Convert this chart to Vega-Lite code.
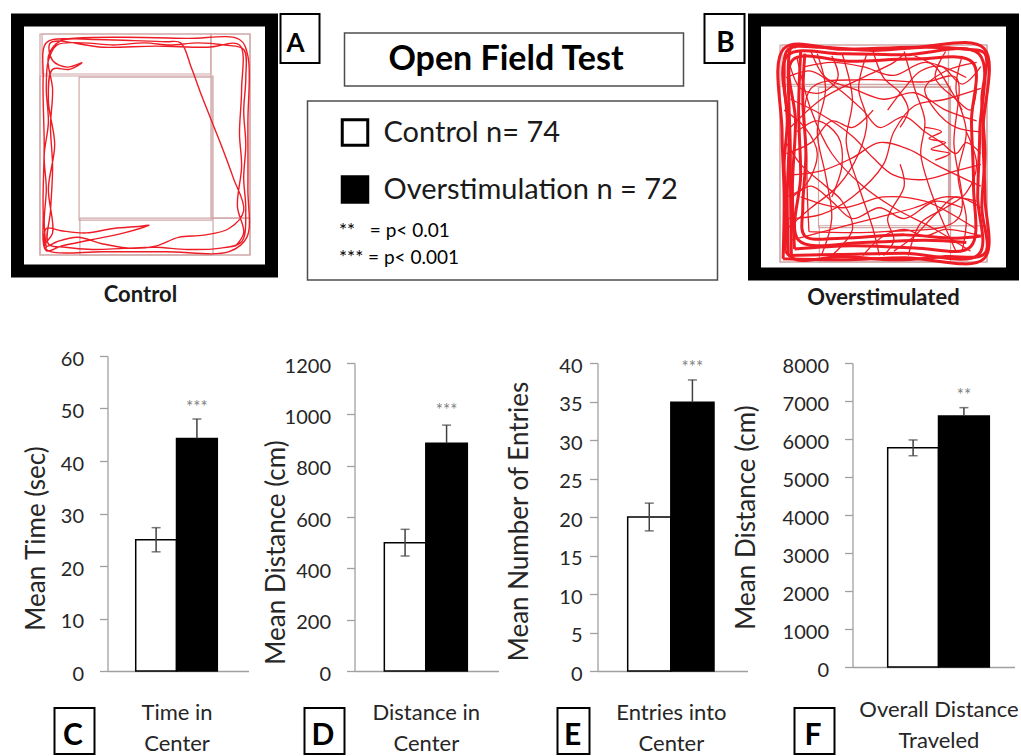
{
"$schema":"https://vega.github.io/schema/vega-lite/v6.json",
"padding":{"left":10.5,"top":13,"right":0,"bottom":0},
"spacing":0,"bounds":"flush",
"resolve":{"legend":{"fill":"independent","shape":"independent"},"scale":{"fill":"independent","shape":"independent"}},
"config":{"font":"Lato","view":{"stroke":null},
"axis":{"labelFont":"Lato","titleFont":"Lato","labelFontSize":20,"titleFontSize":26,"titleFontWeight":"normal","labelColor":"#262626","titleColor":"#262626","domainColor":"#a0a0a0","tickColor":"#a0a0a0","domainWidth":1.3,"tickWidth":1.3,"tickSize":8,"grid":false},
"axisY":{"titleAngle":270,"titleAlign":"center","titleBaseline":"middle","labelOffset":3},
"axisX":{"titleFontSize":22,"titleAlign":"center","titleBaseline":"top","titleLineHeight":31},
"legend":{"labelFont":"Lato"},"title":{"font":"Lato"}},
"datasets":{
"bars":[
{"panel":"C","group":"Control","mean":25.0,"lo":22.7,"hi":27.3,"sig":""},
{"panel":"C","group":"Overstimulation","mean":44.3,"lo":40.6,"hi":48.0,"sig":"***"},
{"panel":"D","group":"Control","mean":500,"lo":448,"hi":552,"sig":""},
{"panel":"D","group":"Overstimulation","mean":887,"lo":816,"hi":958,"sig":"***"},
{"panel":"E","group":"Control","mean":20.0,"lo":18.2,"hi":21.8,"sig":""},
{"panel":"E","group":"Overstimulation","mean":34.9,"lo":32.0,"hi":37.8,"sig":"***"},
{"panel":"F","group":"Control","mean":5770,"lo":5560,"hi":5975,"sig":""},
{"panel":"F","group":"Overstimulation","mean":6605,"lo":6385,"hi":6825,"sig":"**"}],
"zones":[
{"zone":"outer","x1":0,"x2":100,"y1":0,"y2":100},
{"zone":"center","x1":18.6,"x2":81.9,"y1":15.8,"y2":80.5},
{"zone":"top","x1":1,"x2":81.4,"y1":81.9,"y2":100},
{"zone":"leftbig","x1":0,"x2":82.4,"y1":0,"y2":81},
{"zone":"right","x1":81.4,"x2":100,"y1":16.7,"y2":100},
{"zone":"bottom","x1":19,"x2":100,"y1":0,"y2":16.7}],
"ctrl":[
{"o":1,"x":3,"y":3},{"o":2,"x":2,"y":15},{"o":3,"x":3,"y":30},{"o":4,"x":2,"y":45},{"o":5,"x":4,"y":60},{"o":6,"x":3,"y":75},{"o":7,"x":4,"y":88},{"o":8,"x":8,"y":95},{"o":9,"x":20,"y":96},{"o":10,"x":35,"y":95},
{"o":11,"x":50,"y":96},{"o":12,"x":62,"y":95},{"o":13,"x":75,"y":96},{"o":14,"x":88,"y":95},{"o":15,"x":97,"y":93},{"o":16,"x":98,"y":80},{"o":17,"x":97,"y":65},{"o":18,"x":98,"y":50},{"o":19,"x":97,"y":35},{"o":20,"x":98,"y":20},
{"o":21,"x":96,"y":6},{"o":22,"x":85,"y":3},{"o":23,"x":70,"y":2.5},{"o":24,"x":55,"y":3.5},{"o":25,"x":40,"y":3},{"o":26,"x":25,"y":2.5},{"o":27,"x":12,"y":3.5},{"o":28,"x":4,"y":5},{"o":29,"x":5,"y":20},{"o":30,"x":6,"y":40},
{"o":31,"x":5,"y":58},{"o":32,"x":6,"y":75},{"o":33,"x":4,"y":90},{"o":34,"x":10,"y":97},{"o":35,"x":25,"y":97.5},{"o":36,"x":45,"y":97},{"o":37,"x":60,"y":96.5},{"o":38,"x":67,"y":96},{"o":39,"x":72,"y":85},{"o":40,"x":77,"y":72},
{"o":41,"x":82,"y":60},{"o":42,"x":87,"y":48},{"o":43,"x":92,"y":35},{"o":44,"x":97,"y":20},{"o":45,"x":90,"y":12},{"o":46,"x":78,"y":9},{"o":47,"x":66,"y":8},{"o":48,"x":55,"y":4},{"o":49,"x":44,"y":3},{"o":50,"x":30,"y":5},
{"o":51,"x":18,"y":8},{"o":52,"x":8,"y":6},{"o":53,"x":3,"y":4},{"o":54,"x":3,"y":12},{"o":55,"x":10,"y":11},{"o":56,"x":22,"y":10},{"o":57,"x":35,"y":12},{"o":58,"x":48,"y":13},{"o":59,"x":52,"y":13.5},{"o":60,"x":40,"y":10},
{"o":61,"x":25,"y":7},{"o":62,"x":10,"y":4},{"o":63,"x":3,"y":2},{"o":64,"x":1.5,"y":20},{"o":65,"x":2,"y":50},{"o":66,"x":1.5,"y":80},{"o":67,"x":3,"y":96},{"o":68,"x":15,"y":98},{"o":69,"x":40,"y":98.5},{"o":70,"x":70,"y":98},
{"o":71,"x":95,"y":97.5},{"o":72,"x":99,"y":90},{"o":73,"x":99,"y":60},{"o":74,"x":99,"y":30},{"o":75,"x":98.5,"y":8},{"o":76,"x":90,"y":1.5},{"o":77,"x":60,"y":1.5},{"o":78,"x":30,"y":1.5},{"o":79,"x":5,"y":1.5},{"o":80,"x":2,"y":4},
{"o":81,"x":6,"y":10},{"o":82,"x":4,"y":30},{"o":83,"x":7,"y":50},{"o":84,"x":4,"y":70},{"o":85,"x":6,"y":84},{"o":86,"x":14,"y":84},{"o":87,"x":20,"y":87},{"o":88,"x":13,"y":85},{"o":89,"x":6,"y":88},{"o":90,"x":5,"y":96},
{"o":91,"x":30,"y":94},{"o":92,"x":55,"y":94.5},{"o":93,"x":80,"y":94},{"o":94,"x":95,"y":95},{"o":95,"x":96,"y":75},{"o":96,"x":95,"y":55},{"o":97,"x":96,"y":40},{"o":98,"x":94,"y":22},{"o":99,"x":97,"y":10},{"o":100,"x":93,"y":4}],
"over":[
{"s":"W1","k":"wall","o":1,"x":1.5,"y":1.5},{"s":"W1","k":"wall","o":2,"x":2,"y":30},{"s":"W1","k":"wall","o":3,"x":1,"y":60},{"s":"W1","k":"wall","o":4,"x":2,"y":98.5},{"s":"W1","k":"wall","o":5,"x":30,"y":98},{"s":"W1","k":"wall","o":6,"x":65,"y":99},{"s":"W1","k":"wall","o":7,"x":98.5,"y":98.5},{"s":"W1","k":"wall","o":8,"x":98,"y":60},{"s":"W1","k":"wall","o":9,"x":99,"y":30},{"s":"W1","k":"wall","o":10,"x":98.5,"y":1.5},{"s":"W1","k":"wall","o":11,"x":60,"y":2},{"s":"W1","k":"wall","o":12,"x":30,"y":1},{"s":"W1","k":"wall","o":13,"x":1.5,"y":1.5},
{"s":"W2","k":"wall","o":1,"x":4,"y":3},{"s":"W2","k":"wall","o":2,"x":3.5,"y":30},{"s":"W2","k":"wall","o":3,"x":4.5,"y":60},{"s":"W2","k":"wall","o":4,"x":3.5,"y":95},{"s":"W2","k":"wall","o":5,"x":30,"y":96},{"s":"W2","k":"wall","o":6,"x":60,"y":95.5},{"s":"W2","k":"wall","o":7,"x":96,"y":96},{"s":"W2","k":"wall","o":8,"x":96.5,"y":60},{"s":"W2","k":"wall","o":9,"x":95.5,"y":30},{"s":"W2","k":"wall","o":10,"x":96,"y":3.5},{"s":"W2","k":"wall","o":11,"x":60,"y":4},{"s":"W2","k":"wall","o":12,"x":30,"y":3.5},{"s":"W2","k":"wall","o":13,"x":4,"y":3},
{"s":"W3","k":"wall","o":1,"x":7,"y":6},{"s":"W3","k":"wall","o":2,"x":6,"y":35},{"s":"W3","k":"wall","o":3,"x":7.5,"y":65},{"s":"W3","k":"wall","o":4,"x":6,"y":93},{"s":"W3","k":"wall","o":5,"x":35,"y":92.5},{"s":"W3","k":"wall","o":6,"x":65,"y":93.5},{"s":"W3","k":"wall","o":7,"x":93,"y":92},{"s":"W3","k":"wall","o":8,"x":92.5,"y":65},{"s":"W3","k":"wall","o":9,"x":93.5,"y":35},{"s":"W3","k":"wall","o":10,"x":92,"y":7},{"s":"W3","k":"wall","o":11,"x":65,"y":6.5},{"s":"W3","k":"wall","o":12,"x":35,"y":7.5},{"s":"W3","k":"wall","o":13,"x":7,"y":6},
{"s":"W4","k":"wall","o":1,"x":10,"y":97},{"s":"W4","k":"wall","o":2,"x":9,"y":70},{"s":"W4","k":"wall","o":3,"x":10,"y":40},{"s":"W4","k":"wall","o":4,"x":9,"y":10},{"s":"W4","k":"wall","o":5,"x":40,"y":9},{"s":"W4","k":"wall","o":6,"x":70,"y":10},{"s":"W4","k":"wall","o":7,"x":90,"y":9},
{"s":"W5","k":"wall","o":1,"x":5.5,"y":2},{"s":"W5","k":"wall","o":2,"x":5,"y":50},{"s":"W5","k":"wall","o":3,"x":5.5,"y":99},{"s":"W5","k":"wall","o":4,"x":8,"y":99},
{"s":"W6","k":"wall","o":1,"x":2.5,"y":5},{"s":"W6","k":"wall","o":2,"x":3,"y":25},{"s":"W6","k":"wall","o":3,"x":2,"y":45},{"s":"W6","k":"wall","o":4,"x":3.5,"y":65},{"s":"W6","k":"wall","o":5,"x":2,"y":85},{"s":"W6","k":"wall","o":6,"x":4,"y":98},{"s":"W6","k":"wall","o":7,"x":20,"y":99},{"s":"W6","k":"wall","o":8,"x":45,"y":97.5},{"s":"W6","k":"wall","o":9,"x":70,"y":99},{"s":"W6","k":"wall","o":10,"x":90,"y":98},{"s":"W6","k":"wall","o":11,"x":99,"y":96},{"s":"W6","k":"wall","o":12,"x":97.5,"y":75},{"s":"W6","k":"wall","o":13,"x":99,"y":50},{"s":"W6","k":"wall","o":14,"x":97.5,"y":25},{"s":"W6","k":"wall","o":15,"x":99,"y":4},{"s":"W6","k":"wall","o":16,"x":80,"y":2.5},{"s":"W6","k":"wall","o":17,"x":55,"y":1},{"s":"W6","k":"wall","o":18,"x":30,"y":2.5},{"s":"W6","k":"wall","o":19,"x":8,"y":1},{"s":"W6","k":"wall","o":20,"x":2.5,"y":5},
{"s":"W7","k":"wall","o":1,"x":12,"y":96},{"s":"W7","k":"wall","o":2,"x":11,"y":75},{"s":"W7","k":"wall","o":3,"x":12.5,"y":50},{"s":"W7","k":"wall","o":4,"x":11,"y":25},{"s":"W7","k":"wall","o":5,"x":12,"y":12},{"s":"W7","k":"wall","o":6,"x":30,"y":11},{"s":"W7","k":"wall","o":7,"x":60,"y":12.5},{"s":"W7","k":"wall","o":8,"x":85,"y":11},{"s":"W7","k":"wall","o":9,"x":97,"y":12},
{"s":"X1","k":"cross","o":1,"x":3,"y":60},{"s":"X1","k":"cross","o":2,"x":20,"y":75},{"s":"X1","k":"cross","o":3,"x":40,"y":85},{"s":"X1","k":"cross","o":4,"x":55,"y":92},{"s":"X1","k":"cross","o":5,"x":60,"y":96},
{"s":"X2","k":"cross","o":1,"x":8,"y":95},{"s":"X2","k":"cross","o":2,"x":15,"y":70},{"s":"X2","k":"cross","o":3,"x":25,"y":50},{"s":"X2","k":"cross","o":4,"x":40,"y":35},{"s":"X2","k":"cross","o":5,"x":55,"y":25},{"s":"X2","k":"cross","o":6,"x":75,"y":15},{"s":"X2","k":"cross","o":7,"x":92,"y":5},
{"s":"X3","k":"cross","o":1,"x":30,"y":96},{"s":"X3","k":"cross","o":2,"x":35,"y":75},{"s":"X3","k":"cross","o":3,"x":32,"y":55},{"s":"X3","k":"cross","o":4,"x":38,"y":35},{"s":"X3","k":"cross","o":5,"x":45,"y":15},{"s":"X3","k":"cross","o":6,"x":48,"y":3},
{"s":"X4","k":"cross","o":1,"x":97,"y":80},{"s":"X4","k":"cross","o":2,"x":80,"y":75},{"s":"X4","k":"cross","o":3,"x":65,"y":72},{"s":"X4","k":"cross","o":4,"x":55,"y":60},{"s":"X4","k":"cross","o":5,"x":50,"y":45},{"s":"X4","k":"cross","o":6,"x":35,"y":30},{"s":"X4","k":"cross","o":7,"x":20,"y":22},{"s":"X4","k":"cross","o":8,"x":3,"y":20},
{"s":"X5","k":"cross","o":1,"x":4,"y":40},{"s":"X5","k":"cross","o":2,"x":20,"y":42},{"s":"X5","k":"cross","o":3,"x":35,"y":48},{"s":"X5","k":"cross","o":4,"x":48,"y":55},{"s":"X5","k":"cross","o":5,"x":62,"y":52},{"s":"X5","k":"cross","o":6,"x":75,"y":45},{"s":"X5","k":"cross","o":7,"x":90,"y":38},{"s":"X5","k":"cross","o":8,"x":97,"y":35},
{"s":"X6","k":"cross","o":1,"x":60,"y":97},{"s":"X6","k":"cross","o":2,"x":65,"y":80},{"s":"X6","k":"cross","o":3,"x":70,"y":65},{"s":"X6","k":"cross","o":4,"x":68,"y":50},{"s":"X6","k":"cross","o":5,"x":72,"y":35},{"s":"X6","k":"cross","o":6,"x":78,"y":20},{"s":"X6","k":"cross","o":7,"x":85,"y":5},
{"s":"X7","k":"cross","o":1,"x":97,"y":60},{"s":"X7","k":"cross","o":2,"x":85,"y":62},{"s":"X7","k":"cross","o":3,"x":75,"y":70},{"s":"X7","k":"cross","o":4,"x":70,"y":80},{"s":"X7","k":"cross","o":5,"x":80,"y":88},{"s":"X7","k":"cross","o":6,"x":95,"y":92},
{"s":"X8","k":"cross","o":1,"x":3,"y":85},{"s":"X8","k":"cross","o":2,"x":15,"y":88},{"s":"X8","k":"cross","o":3,"x":28,"y":80},{"s":"X8","k":"cross","o":4,"x":40,"y":70},{"s":"X8","k":"cross","o":5,"x":48,"y":62},{"s":"X8","k":"cross","o":6,"x":60,"y":67},{"s":"X8","k":"cross","o":7,"x":70,"y":60},{"s":"X8","k":"cross","o":8,"x":78,"y":55},{"s":"X8","k":"cross","o":9,"x":85,"y":50},{"s":"X8","k":"cross","o":10,"x":90,"y":55},{"s":"X8","k":"cross","o":11,"x":97,"y":50},
{"s":"X9","k":"cross","o":1,"x":20,"y":3},{"s":"X9","k":"cross","o":2,"x":25,"y":20},{"s":"X9","k":"cross","o":3,"x":22,"y":40},{"s":"X9","k":"cross","o":4,"x":18,"y":60},{"s":"X9","k":"cross","o":5,"x":22,"y":80},{"s":"X9","k":"cross","o":6,"x":18,"y":96},
{"s":"X10","k":"cross","o":1,"x":45,"y":97},{"s":"X10","k":"cross","o":2,"x":50,"y":85},{"s":"X10","k":"cross","o":3,"x":58,"y":78},{"s":"X10","k":"cross","o":4,"x":62,"y":70},{"s":"X10","k":"cross","o":5,"x":58,"y":62},
{"s":"X11","k":"cross","o":1,"x":5,"y":10},{"s":"X11","k":"cross","o":2,"x":25,"y":15},{"s":"X11","k":"cross","o":3,"x":45,"y":20},{"s":"X11","k":"cross","o":4,"x":65,"y":25},{"s":"X11","k":"cross","o":5,"x":80,"y":30},{"s":"X11","k":"cross","o":6,"x":95,"y":28},
{"s":"X12","k":"cross","o":1,"x":10,"y":30},{"s":"X12","k":"cross","o":2,"x":30,"y":25},{"s":"X12","k":"cross","o":3,"x":50,"y":30},{"s":"X12","k":"cross","o":4,"x":70,"y":28},{"s":"X12","k":"cross","o":5,"x":95,"y":15},
{"s":"X13","k":"cross","o":1,"x":80,"y":97},{"s":"X13","k":"cross","o":2,"x":75,"y":85},{"s":"X13","k":"cross","o":3,"x":85,"y":75},{"s":"X13","k":"cross","o":4,"x":92,"y":70},{"s":"X13","k":"cross","o":5,"x":95,"y":80},
{"s":"X14","k":"cross","o":1,"x":2,"y":70},{"s":"X14","k":"cross","o":2,"x":12,"y":62},{"s":"X14","k":"cross","o":3,"x":18,"y":50},{"s":"X14","k":"cross","o":4,"x":12,"y":35},{"s":"X14","k":"cross","o":5,"x":3,"y":30},
{"s":"X15","k":"cross","o":1,"x":40,"y":3},{"s":"X15","k":"cross","o":2,"x":50,"y":12},{"s":"X15","k":"cross","o":3,"x":60,"y":15},{"s":"X15","k":"cross","o":4,"x":70,"y":12},{"s":"X15","k":"cross","o":5,"x":80,"y":15},{"s":"X15","k":"cross","o":6,"x":97,"y":12},
{"s":"X16","k":"cross","o":1,"x":70,"y":62},{"s":"X16","k":"cross","o":2,"x":78,"y":60},{"s":"X16","k":"cross","o":3,"x":72,"y":57},{"s":"X16","k":"cross","o":4,"x":80,"y":55},{"s":"X16","k":"cross","o":5,"x":73,"y":52},{"s":"X16","k":"cross","o":6,"x":82,"y":50},{"s":"X16","k":"cross","o":7,"x":75,"y":47},
{"s":"X17","k":"cross","o":1,"x":14,"y":14},{"s":"X17","k":"cross","o":2,"x":13,"y":45},{"s":"X17","k":"cross","o":3,"x":15,"y":80},{"s":"X17","k":"cross","o":4,"x":40,"y":84},{"s":"X17","k":"cross","o":5,"x":70,"y":83},{"s":"X17","k":"cross","o":6,"x":85,"y":85},{"s":"X17","k":"cross","o":7,"x":84,"y":55},{"s":"X17","k":"cross","o":8,"x":86,"y":20},{"s":"X17","k":"cross","o":9,"x":50,"y":14},{"s":"X17","k":"cross","o":10,"x":14,"y":14},
{"s":"X18","k":"cross","o":1,"x":25,"y":95},{"s":"X18","k":"cross","o":2,"x":28,"y":85},{"s":"X18","k":"cross","o":3,"x":20,"y":78},{"s":"X18","k":"cross","o":4,"x":10,"y":80},{"s":"X18","k":"cross","o":5,"x":5,"y":90},
{"s":"X19","k":"cross","o":1,"x":88,"y":95},{"s":"X19","k":"cross","o":2,"x":85,"y":80},{"s":"X19","k":"cross","o":3,"x":90,"y":60},{"s":"X19","k":"cross","o":4,"x":86,"y":40},{"s":"X19","k":"cross","o":5,"x":90,"y":20},{"s":"X19","k":"cross","o":6,"x":88,"y":5},
{"s":"X20","k":"cross","o":1,"x":50,"y":3},{"s":"X20","k":"cross","o":2,"x":55,"y":10},{"s":"X20","k":"cross","o":3,"x":52,"y":20},{"s":"X20","k":"cross","o":4,"x":60,"y":35},{"s":"X20","k":"cross","o":5,"x":58,"y":45},
{"s":"X21","k":"cross","o":1,"x":65,"y":95},{"s":"X21","k":"cross","o":2,"x":75,"y":90},{"s":"X21","k":"cross","o":3,"x":82,"y":80},{"s":"X21","k":"cross","o":4,"x":88,"y":70},
{"s":"X22","k":"cross","o":1,"x":3,"y":50},{"s":"X22","k":"cross","o":2,"x":15,"y":55},{"s":"X22","k":"cross","o":3,"x":25,"y":65},{"s":"X22","k":"cross","o":4,"x":35,"y":62},{"s":"X22","k":"cross","o":5,"x":45,"y":70},
{"s":"X23","k":"cross","o":1,"x":5,"y":75},{"s":"X23","k":"cross","o":2,"x":20,"y":68},{"s":"X23","k":"cross","o":3,"x":35,"y":58},{"s":"X23","k":"cross","o":4,"x":45,"y":48},{"s":"X23","k":"cross","o":5,"x":55,"y":40},{"s":"X23","k":"cross","o":6,"x":70,"y":38},{"s":"X23","k":"cross","o":7,"x":85,"y":42},{"s":"X23","k":"cross","o":8,"x":97,"y":45},
{"s":"X24","k":"cross","o":1,"x":15,"y":97},{"s":"X24","k":"cross","o":2,"x":22,"y":85},{"s":"X24","k":"cross","o":3,"x":35,"y":80},{"s":"X24","k":"cross","o":4,"x":50,"y":75},{"s":"X24","k":"cross","o":5,"x":65,"y":78},{"s":"X24","k":"cross","o":6,"x":80,"y":70},{"s":"X24","k":"cross","o":7,"x":95,"y":65},
{"s":"X25","k":"cross","o":1,"x":3,"y":15},{"s":"X25","k":"cross","o":2,"x":15,"y":25},{"s":"X25","k":"cross","o":3,"x":28,"y":35},{"s":"X25","k":"cross","o":4,"x":38,"y":50},{"s":"X25","k":"cross","o":5,"x":42,"y":65},{"s":"X25","k":"cross","o":6,"x":38,"y":80},{"s":"X25","k":"cross","o":7,"x":42,"y":96},
{"s":"X26","k":"cross","o":1,"x":97,"y":90},{"s":"X26","k":"cross","o":2,"x":88,"y":82},{"s":"X26","k":"cross","o":3,"x":78,"y":90},{"s":"X26","k":"cross","o":4,"x":68,"y":88},{"s":"X26","k":"cross","o":5,"x":60,"y":80},{"s":"X26","k":"cross","o":6,"x":52,"y":70},
{"s":"X27","k":"cross","o":1,"x":25,"y":3},{"s":"X27","k":"cross","o":2,"x":35,"y":15},{"s":"X27","k":"cross","o":3,"x":30,"y":28},{"s":"X27","k":"cross","o":4,"x":22,"y":35},{"s":"X27","k":"cross","o":5,"x":10,"y":45},{"s":"X27","k":"cross","o":6,"x":3,"y":55},
{"s":"X28","k":"cross","o":1,"x":97,"y":25},{"s":"X28","k":"cross","o":2,"x":85,"y":30},{"s":"X28","k":"cross","o":3,"x":75,"y":22},{"s":"X28","k":"cross","o":4,"x":65,"y":12},{"s":"X28","k":"cross","o":5,"x":55,"y":5},
{"s":"X29","k":"cross","o":1,"x":8,"y":60},{"s":"X29","k":"cross","o":2,"x":18,"y":65},{"s":"X29","k":"cross","o":3,"x":28,"y":58},{"s":"X29","k":"cross","o":4,"x":30,"y":45},{"s":"X29","k":"cross","o":5,"x":25,"y":30},
{"s":"X30","k":"cross","o":1,"x":62,"y":3},{"s":"X30","k":"cross","o":2,"x":68,"y":18},{"s":"X30","k":"cross","o":3,"x":80,"y":25},{"s":"X30","k":"cross","o":4,"x":90,"y":32},{"s":"X30","k":"cross","o":5,"x":95,"y":45},{"s":"X30","k":"cross","o":6,"x":90,"y":60},
{"s":"X31","k":"cross","o":1,"x":12,"y":90},{"s":"X31","k":"cross","o":2,"x":25,"y":92},{"s":"X31","k":"cross","o":3,"x":40,"y":90},{"s":"X31","k":"cross","o":4,"x":55,"y":86},{"s":"X31","k":"cross","o":5,"x":70,"y":92},{"s":"X31","k":"cross","o":6,"x":90,"y":85},
{"s":"X32","k":"cross","o":1,"x":6,"y":30},{"s":"X32","k":"cross","o":2,"x":15,"y":35},{"s":"X32","k":"cross","o":3,"x":25,"y":28},{"s":"X32","k":"cross","o":4,"x":35,"y":20},{"s":"X32","k":"cross","o":5,"x":48,"y":25},{"s":"X32","k":"cross","o":6,"x":60,"y":20},{"s":"X32","k":"cross","o":7,"x":75,"y":28},{"s":"X32","k":"cross","o":8,"x":88,"y":25}]
},
"vconcat":[
{"spacing":0,"bounds":"flush","hconcat":[
 {"width":270,"height":1,"data":{"values":[]},"mark":"point"},
 {"width":39,"height":49,"view":{"stroke":"black","strokeWidth":2,"fill":"white"},"data":{"values":[{"t":"A"}]},"mark":{"type":"text","fontSize":26,"fontWeight":"bold","color":"black","dx":-4.5,"dy":5},"encoding":{"text":{"field":"t"}}},
 {"width":385,"height":1,"data":{"values":[]},"mark":"point"},
 {"width":40,"height":49,"view":{"stroke":"black","strokeWidth":2,"fill":"white"},"data":{"values":[{"t":"B"}]},"mark":{"type":"text","fontSize":28,"fontWeight":"bold","color":"black","dx":1,"dy":5},"encoding":{"text":{"field":"t"}}}
]},
{"width":1,"height":6,"data":{"values":[]},"mark":"point"},
{"spacing":0,"bounds":"flush","hconcat":[
 {"width":7,"height":1,"data":{"values":[]},"mark":"point"},
 {"width":254,"height":251,"view":{"stroke":"black","strokeWidth":13,"fill":"white"},
  "title":{"text":"Control","orient":"bottom","frame":"group","baseline":"top","offset":14,"fontSize":22,"fontWeight":"bold","color":"#1a1a1a","dx":-4},
  "layer":[
   {"data":{"name":"zones"},"mark":{"type":"rect","filled":false,"color":"#d0a8a8","strokeWidth":1.2},
    "encoding":{"x":{"field":"x1","type":"quantitative","scale":{"domain":[-10.71,110.24],"nice":false,"zero":false},"axis":null},"x2":{"field":"x2"},
    "y":{"field":"y1","type":"quantitative","scale":{"domain":[-7.24,106.33],"nice":false,"zero":false},"axis":null},"y2":{"field":"y2"}}},
   {"data":{"name":"ctrl"},"mark":{"type":"line","color":"#ee1c25","strokeWidth":1.4,"interpolate":"catmull-rom"},
    "encoding":{"x":{"field":"x","type":"quantitative","axis":null},"y":{"field":"y","type":"quantitative","axis":null},"order":{"field":"o","type":"quantitative"}}}
  ]},
 {"width":483,"height":1,"data":{"values":[]},"mark":"point"},
 {"width":258,"height":254,"view":{"stroke":"black","strokeWidth":13,"fill":"white"},
  "title":{"text":"Overstimulated","orient":"bottom","frame":"group","baseline":"top","offset":14,"fontSize":22,"fontWeight":"bold","color":"#1a1a1a"},
  "layer":[
   {"data":{"name":"zones"},"mark":{"type":"rect","filled":false,"color":"#d0a8a8","strokeWidth":1.2},
    "encoding":{"x":{"field":"x1","type":"quantitative","scale":{"domain":[-12.32,112.32],"nice":false,"zero":false},"axis":null},"x2":{"field":"x2"},
    "y":{"field":"y1","type":"quantitative","scale":{"domain":[-5.53,111.52],"nice":false,"zero":false},"axis":null},"y2":{"field":"y2"}}},
   {"data":{"name":"over"},"transform":[{"filter":"datum.k === 'wall'"}],"mark":{"type":"line","color":"#ee1c25","strokeWidth":3,"interpolate":"catmull-rom"},
    "encoding":{"x":{"field":"x","type":"quantitative","axis":null},"y":{"field":"y","type":"quantitative","axis":null},"detail":{"field":"s"},"order":{"field":"o","type":"quantitative"}}},
   {"data":{"name":"over"},"transform":[{"filter":"datum.k === 'cross'"}],"mark":{"type":"line","color":"#ee1c25","strokeWidth":1.3,"interpolate":"catmull-rom"},
    "encoding":{"x":{"field":"x","type":"quantitative","axis":null},"y":{"field":"y","type":"quantitative","axis":null},"detail":{"field":"s"},"order":{"field":"o","type":"quantitative"}}}
  ]}
]},
{"width":1,"height":13,"data":{"values":[]},"mark":"point"},
{"spacing":0,"bounds":"flush","hconcat":[
 {"width":334,"height":1,"data":{"values":[]},"mark":"point"},
 {"width":339,"height":53,"view":{"stroke":"#4d4d4d","strokeWidth":1.5,"fill":"white"},"data":{"values":[{"t":"Open Field Test"}]},"mark":{"type":"text","fontSize":34,"fontWeight":"bold","color":"black","dx":-8},"encoding":{"text":{"field":"t"}}}
]},
{"width":1,"height":68,"data":{"values":[]},"mark":"point"},
{"spacing":0,"bounds":"flush",
 "resolve":{"legend":{"fill":"independent","shape":"independent"},"scale":{"fill":"independent","shape":"independent"}},
 "hconcat":[
 {"width":297,"height":1,"data":{"values":[]},"mark":"point"},
 {"width":410,"height":179,"view":{"stroke":"#4d4d4d","strokeWidth":1.5,"fill":"white"},"data":{"name":"bars"},
  "layer":[
   {"transform":[{"filter":"datum.panel === 'C'"}],"mark":{"type":"square","size":0},
    "encoding":{"fill":{"field":"group","type":"nominal","scale":{"domain":["Control","Overstimulation"],"range":["white","black"]},
     "legend":{"orient":"none","legendX":33,"legendY":17,"title":null,"padding":0,"symbolType":"square","symbolSize":650,"symbolStrokeColor":"black","symbolStrokeWidth":3,"symbolOpacity":1,"labelFontSize":29,"labelColor":"#1a1a1a","labelOffset":14,"rowPadding":18,"labelLimit":400,
      "labelExpr":"datum.label === 'Control' ? 'Control n= 74' : 'Overstimulation n = 72'"}}}},
   {"transform":[{"filter":"datum.sig !== ''"}],"mark":{"type":"point","size":0},
    "encoding":{"shape":{"field":"sig","type":"nominal","scale":{"domain":["**","***"],"range":["circle","circle"]},
     "legend":{"orient":"none","legendX":12.5,"legendY":120,"title":null,"padding":0,"symbolSize":1,"symbolOpacity":0,"symbolStrokeWidth":0,"labelFontSize":19,"labelColor":"black","labelOffset":0,"rowPadding":7,"labelLimit":300,
      "labelExpr":"datum.label === '**' ? '**\u00a0\u00a0\u00a0= p< 0.01' : '*** = p< 0.001'"}}}}
  ]}
]},
{"width":1,"height":255,"data":{"values":[]},"mark":"point"},
{"spacing":0,"bounds":"flush","hconcat":[
 {"width":97,"height":1,"data":{"values":[]},"mark":"point"},
 {"width":141,"height":315,"data":{"name":"bars"},"transform":[{"filter":"datum.panel === 'C'"}],
  "encoding":{"x":{"field":"group","type":"nominal","scale":{"domain":["Control","Overstimulation"],"paddingInner":0,"paddingOuter":0.728,"align":0.475},"axis":{"labels":false,"ticks":false,"title":["Time in","Center"],"titleX":69,"titleY":31}}},
  "layer":[
   {"mark":{"type":"bar","stroke":"black","strokeWidth":1.5},"encoding":{"y":{"field":"mean","type":"quantitative","title":"Mean Time (sec)","scale":{"domain":[0,60],"nice":false},"axis":{"values":[0,10,20,30,40,50,60],"format":"d","titleX":-71,"titleY":182,"labelPadding":16}},"fill":{"field":"group","type":"nominal","scale":{"domain":["Control","Overstimulation"],"range":["white","black"]},"legend":null}}},
   {"transform":[{"filter":"datum.group === 'Control'"}],"mark":{"type":"rule","color":"#404040","strokeWidth":1.5},"encoding":{"y":{"field":"lo","type":"quantitative","title":"Mean Time (sec)","axis":{"values":[0,10,20,30,40,50,60],"format":"d","titleX":-71,"titleY":182,"labelPadding":16}},"y2":{"field":"hi"}}},
   {"transform":[{"filter":"datum.group !== 'Control'"}],"mark":{"type":"rule","color":"#404040","strokeWidth":1.5},"encoding":{"y":{"field":"mean","type":"quantitative","title":"Mean Time (sec)","axis":{"values":[0,10,20,30,40,50,60],"format":"d","titleX":-71,"titleY":182,"labelPadding":16}},"y2":{"field":"hi"}}},
   {"mark":{"type":"tick","color":"#404040","thickness":1.5,"size":9},"encoding":{"y":{"field":"hi","type":"quantitative","title":"Mean Time (sec)","axis":{"values":[0,10,20,30,40,50,60],"format":"d","titleX":-71,"titleY":182,"labelPadding":16}}}},
   {"transform":[{"filter":"datum.group === 'Control'"}],"mark":{"type":"tick","color":"#404040","thickness":1.5,"size":9},"encoding":{"y":{"field":"lo","type":"quantitative","title":"Mean Time (sec)","axis":{"values":[0,10,20,30,40,50,60],"format":"d","titleX":-71,"titleY":182,"labelPadding":16}}}},
   {"transform":[{"filter":"datum.sig !== ''"}],"mark":{"type":"text","color":"#808080","fontSize":17,"dy":-11},"encoding":{"y":{"field":"hi","type":"quantitative","title":"Mean Time (sec)","axis":{"values":[0,10,20,30,40,50,60],"format":"d","titleX":-71,"titleY":182,"labelPadding":16}},"text":{"field":"sig"}}}
  ]}
]},
{"width":1,"height":7,"data":{"values":[]},"mark":"point"},
{"spacing":0,"bounds":"flush","hconcat":[
 {"width":344,"height":1,"data":{"values":[]},"mark":"point"},
 {"width":144,"height":308,"data":{"name":"bars"},"transform":[{"filter":"datum.panel === 'D'"}],
  "encoding":{"x":{"field":"group","type":"nominal","scale":{"domain":["Control","Overstimulation"],"paddingInner":0,"paddingOuter":0.735,"align":0.489},"axis":{"labels":false,"ticks":false,"title":["Distance in","Center"],"titleX":71.3,"titleY":31}}},
  "layer":[
   {"mark":{"type":"bar","stroke":"black","strokeWidth":1.5},"encoding":{"y":{"field":"mean","type":"quantitative","title":"Mean Distance (cm)","scale":{"domain":[0,1200],"nice":false},"axis":{"values":[0,200,400,600,800,1000,1200],"format":"d","titleX":-78.5,"titleY":189,"labelPadding":16}},"fill":{"field":"group","type":"nominal","scale":{"domain":["Control","Overstimulation"],"range":["white","black"]},"legend":null}}},
   {"transform":[{"filter":"datum.group === 'Control'"}],"mark":{"type":"rule","color":"#404040","strokeWidth":1.5},"encoding":{"y":{"field":"lo","type":"quantitative","title":"Mean Distance (cm)","axis":{"values":[0,200,400,600,800,1000,1200],"format":"d","titleX":-78.5,"titleY":189,"labelPadding":16}},"y2":{"field":"hi"}}},
   {"transform":[{"filter":"datum.group !== 'Control'"}],"mark":{"type":"rule","color":"#404040","strokeWidth":1.5},"encoding":{"y":{"field":"mean","type":"quantitative","title":"Mean Distance (cm)","axis":{"values":[0,200,400,600,800,1000,1200],"format":"d","titleX":-78.5,"titleY":189,"labelPadding":16}},"y2":{"field":"hi"}}},
   {"mark":{"type":"tick","color":"#404040","thickness":1.5,"size":9},"encoding":{"y":{"field":"hi","type":"quantitative","title":"Mean Distance (cm)","axis":{"values":[0,200,400,600,800,1000,1200],"format":"d","titleX":-78.5,"titleY":189,"labelPadding":16}}}},
   {"transform":[{"filter":"datum.group === 'Control'"}],"mark":{"type":"tick","color":"#404040","thickness":1.5,"size":9},"encoding":{"y":{"field":"lo","type":"quantitative","title":"Mean Distance (cm)","axis":{"values":[0,200,400,600,800,1000,1200],"format":"d","titleX":-78.5,"titleY":189,"labelPadding":16}}}},
   {"transform":[{"filter":"datum.sig !== ''"}],"mark":{"type":"text","color":"#808080","fontSize":17,"dy":-14},"encoding":{"y":{"field":"hi","type":"quantitative","title":"Mean Distance (cm)","axis":{"values":[0,200,400,600,800,1000,1200],"format":"d","titleX":-78.5,"titleY":189,"labelPadding":16}},"text":{"field":"sig"}}}
  ]},
 {"width":99,"height":1,"data":{"values":[]},"mark":"point"},
 {"width":150,"height":308,"data":{"name":"bars"},"transform":[{"filter":"datum.panel === 'E'"}],
  "encoding":{"x":{"field":"group","type":"nominal","scale":{"domain":["Control","Overstimulation"],"paddingInner":0,"paddingOuter":0.738,"align":0.474},"axis":{"labels":false,"ticks":false,"title":["Entries into","Center"],"titleX":73.4,"titleY":31}}},
  "layer":[
   {"mark":{"type":"bar","stroke":"black","strokeWidth":1.5},"encoding":{"y":{"field":"mean","type":"quantitative","title":"Mean Number of Entries","scale":{"domain":[0,40],"nice":false},"axis":{"values":[0,5,10,15,20,25,30,35,40],"format":"d","titleX":-78.5,"titleY":158,"labelPadding":7.5}},"fill":{"field":"group","type":"nominal","scale":{"domain":["Control","Overstimulation"],"range":["white","black"]},"legend":null}}},
   {"transform":[{"filter":"datum.group === 'Control'"}],"mark":{"type":"rule","color":"#404040","strokeWidth":1.5},"encoding":{"y":{"field":"lo","type":"quantitative","title":"Mean Number of Entries","axis":{"values":[0,5,10,15,20,25,30,35,40],"format":"d","titleX":-78.5,"titleY":158,"labelPadding":7.5}},"y2":{"field":"hi"}}},
   {"transform":[{"filter":"datum.group !== 'Control'"}],"mark":{"type":"rule","color":"#404040","strokeWidth":1.5},"encoding":{"y":{"field":"mean","type":"quantitative","title":"Mean Number of Entries","axis":{"values":[0,5,10,15,20,25,30,35,40],"format":"d","titleX":-78.5,"titleY":158,"labelPadding":7.5}},"y2":{"field":"hi"}}},
   {"mark":{"type":"tick","color":"#404040","thickness":1.5,"size":9},"encoding":{"y":{"field":"hi","type":"quantitative","title":"Mean Number of Entries","axis":{"values":[0,5,10,15,20,25,30,35,40],"format":"d","titleX":-78.5,"titleY":158,"labelPadding":7.5}}}},
   {"transform":[{"filter":"datum.group === 'Control'"}],"mark":{"type":"tick","color":"#404040","thickness":1.5,"size":9},"encoding":{"y":{"field":"lo","type":"quantitative","title":"Mean Number of Entries","axis":{"values":[0,5,10,15,20,25,30,35,40],"format":"d","titleX":-78.5,"titleY":158,"labelPadding":7.5}}}},
   {"transform":[{"filter":"datum.sig !== ''"}],"mark":{"type":"text","color":"#808080","fontSize":17,"dy":-12},"encoding":{"y":{"field":"hi","type":"quantitative","title":"Mean Number of Entries","axis":{"values":[0,5,10,15,20,25,30,35,40],"format":"d","titleX":-78.5,"titleY":158,"labelPadding":7.5}},"text":{"field":"sig"}}}
  ]},
 {"width":105,"height":1,"data":{"values":[]},"mark":"point"},
 {"width":162,"height":304,"data":{"name":"bars"},"transform":[{"filter":"datum.panel === 'F'"}],
  "encoding":{"x":{"field":"group","type":"nominal","scale":{"domain":["Control","Overstimulation"],"paddingInner":0,"paddingOuter":0.594,"align":0.583},"axis":{"labels":false,"ticks":false,"title":["Overall Distance","Traveled"],"titleX":86,"titleY":32}}},
  "layer":[
   {"mark":{"type":"bar","stroke":"black","strokeWidth":1.5},"encoding":{"y":{"field":"mean","type":"quantitative","title":"Mean Distance (cm)","scale":{"domain":[0,8000],"nice":false},"axis":{"values":[0,1000,2000,3000,4000,5000,6000,7000,8000],"format":"d","titleX":-106.5,"titleY":154,"labelPadding":16}},"fill":{"field":"group","type":"nominal","scale":{"domain":["Control","Overstimulation"],"range":["white","black"]},"legend":null}}},
   {"transform":[{"filter":"datum.group === 'Control'"}],"mark":{"type":"rule","color":"#404040","strokeWidth":1.5},"encoding":{"y":{"field":"lo","type":"quantitative","title":"Mean Distance (cm)","axis":{"values":[0,1000,2000,3000,4000,5000,6000,7000,8000],"format":"d","titleX":-106.5,"titleY":154,"labelPadding":16}},"y2":{"field":"hi"}}},
   {"transform":[{"filter":"datum.group !== 'Control'"}],"mark":{"type":"rule","color":"#404040","strokeWidth":1.5},"encoding":{"y":{"field":"mean","type":"quantitative","title":"Mean Distance (cm)","axis":{"values":[0,1000,2000,3000,4000,5000,6000,7000,8000],"format":"d","titleX":-106.5,"titleY":154,"labelPadding":16}},"y2":{"field":"hi"}}},
   {"mark":{"type":"tick","color":"#404040","thickness":1.5,"size":9},"encoding":{"y":{"field":"hi","type":"quantitative","title":"Mean Distance (cm)","axis":{"values":[0,1000,2000,3000,4000,5000,6000,7000,8000],"format":"d","titleX":-106.5,"titleY":154,"labelPadding":16}}}},
   {"transform":[{"filter":"datum.group === 'Control'"}],"mark":{"type":"tick","color":"#404040","thickness":1.5,"size":9},"encoding":{"y":{"field":"lo","type":"quantitative","title":"Mean Distance (cm)","axis":{"values":[0,1000,2000,3000,4000,5000,6000,7000,8000],"format":"d","titleX":-106.5,"titleY":154,"labelPadding":16}}}},
   {"transform":[{"filter":"datum.sig !== ''"}],"mark":{"type":"text","color":"#808080","fontSize":17,"dy":-12},"encoding":{"y":{"field":"hi","type":"quantitative","title":"Mean Distance (cm)","axis":{"values":[0,1000,2000,3000,4000,5000,6000,7000,8000],"format":"d","titleX":-106.5,"titleY":154,"labelPadding":16}},"text":{"field":"sig"}}}
  ]}
]},
{"width":1,"height":345,"data":{"values":[]},"mark":"point"},
{"spacing":0,"bounds":"flush","hconcat":[
 {"width":44,"height":1,"data":{"values":[]},"mark":"point"},
 {"width":40,"height":46,"view":{"stroke":"black","strokeWidth":2,"fill":"white"},"data":{"values":[{"t":"C"}]},"mark":{"type":"text","fontSize":30,"fontWeight":"bold","color":"black","dx":-1.5,"dy":5},"encoding":{"text":{"field":"t"}}},
 {"width":210,"height":1,"data":{"values":[]},"mark":"point"},
 {"width":40,"height":46,"view":{"stroke":"black","strokeWidth":2,"fill":"white"},"data":{"values":[{"t":"D"}]},"mark":{"type":"text","fontSize":30,"fontWeight":"bold","color":"black","dx":-1.5,"dy":5},"encoding":{"text":{"field":"t"}}},
 {"width":213,"height":1,"data":{"values":[]},"mark":"point"},
 {"width":32,"height":46,"view":{"stroke":"black","strokeWidth":2,"fill":"white"},"data":{"values":[{"t":"E"}]},"mark":{"type":"text","fontSize":30,"fontWeight":"bold","color":"black","dx":-1,"dy":5},"encoding":{"text":{"field":"t"}}},
 {"width":205,"height":1,"data":{"values":[]},"mark":"point"},
 {"width":40,"height":46,"view":{"stroke":"black","strokeWidth":2,"fill":"white"},"data":{"values":[{"t":"F"}]},"mark":{"type":"text","fontSize":30,"fontWeight":"bold","color":"black","dx":-1.5,"dy":5},"encoding":{"text":{"field":"t"}}}
]}
]
}
